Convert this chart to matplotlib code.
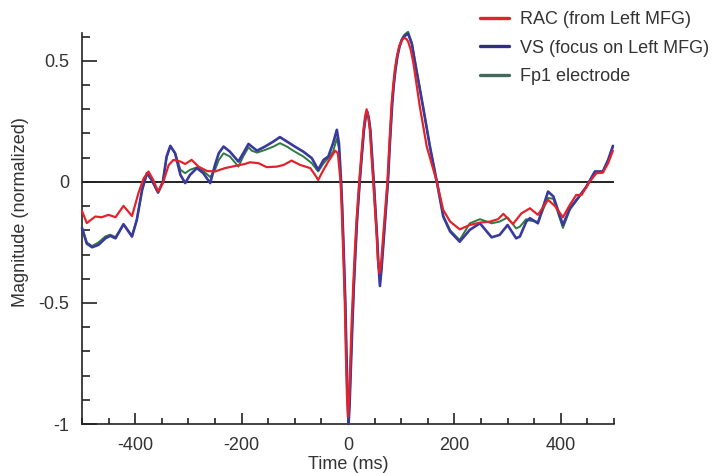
import matplotlib
matplotlib.use("Agg")
import matplotlib.pyplot as plt
from matplotlib.ticker import MultipleLocator, FuncFormatter

plt.rcParams['font.family'] = ['Liberation Sans', 'DejaVu Sans']

# ---- data ----
rac_t = [-500, -491, -475, -463, -450, -437, -422, -406, -394, -384, -375, -366, -357, -348,
         -337, -328, -315, -306, -294, -281, -265, -250, -231, -212, -194, -184, -168, -153,
         -134, -121, -106, -90, -71, -62, -56, -46, -37, -24, -19, -14, -12, -9, -6, -4, -2,
         0, 2, 7, 10, 13, 16, 21, 25, 29, 32, 35, 38, 41, 48, 54, 56, 59, 62, 66, 74, 78, 82,
         85, 88, 92, 96, 100, 104, 107, 110, 113, 118, 123, 135, 148, 167, 179, 192, 210, 229,
         248, 267, 282, 292, 310, 326, 342, 357, 376, 389, 404, 417, 429, 439, 454, 467, 479,
         489, 498]
rac_v = [-0.12, -0.17, -0.143, -0.146, -0.136, -0.146, -0.099, -0.141, -0.047, 0.015, 0.043,
         0.008, -0.04, -0.005, 0.07, 0.091, 0.084, 0.074, 0.091, 0.063, 0.045, 0.043, 0.057,
         0.066, 0.074, 0.081, 0.077, 0.061, 0.063, 0.07, 0.088, 0.07, 0.057, 0.029, 0.008,
         0.05, 0.084, 0.129, 0.118, 0.0, -0.1, -0.29, -0.5, -0.71, -0.88, -0.97, -0.9, -0.57,
         -0.42, -0.28, -0.157, 0.0, 0.11, 0.215, 0.27, 0.30, 0.27, 0.215, -0.02, -0.226, -0.32,
         -0.377, -0.34, -0.226, 0.0, 0.17, 0.325, 0.40, 0.463, 0.52, 0.559, 0.58, 0.593, 0.594,
         0.59, 0.58, 0.545, 0.49, 0.311, 0.146, 0.0, -0.116, -0.164, -0.196, -0.178, -0.168,
         -0.164, -0.154, -0.132, -0.174, -0.13, -0.109, -0.136, -0.074, -0.10, -0.146, -0.095,
         -0.054, -0.054, 0.0, 0.036, 0.038, 0.077, 0.129]

vs_t = [-500, -491, -481, -469, -456, -447, -437, -422, -406, -397, -387, -378, -369, -357,
        -348, -341, -334, -325, -315, -306, -297, -284, -272, -259, -250, -243, -234, -222,
        -206, -197, -187, -181, -171, -156, -140, -128, -115, -100, -84, -68, -56, -46, -37,
        -28, -21, -17, -13, -11, -8, -5, -3, -1, 1, 3, 8, 11, 14, 17, 22, 26, 30, 33, 36, 39,
        42, 49, 55, 57, 60, 63, 67, 75, 79, 83, 86, 89, 93, 97, 101, 105, 108, 113, 120, 128,
        141, 154, 167, 179, 192, 210, 229, 248, 270, 285, 300, 316, 323, 335, 342, 357, 376,
        386, 404, 417, 432, 448, 464, 479, 489, 498]
vs_v = [-0.19, -0.255, -0.27, -0.26, -0.233, -0.223, -0.233, -0.175, -0.226, -0.157, -0.033,
        0.036, 0.008, -0.044, 0.0, 0.105, 0.149, 0.118, 0.029, -0.005, 0.029, 0.057, 0.036,
        -0.005, 0.07, 0.118, 0.146, 0.125, 0.084, 0.118, 0.157, 0.146, 0.129, 0.146, 0.167,
        0.185, 0.167, 0.146, 0.125, 0.098, 0.05, 0.091, 0.105, 0.16, 0.215, 0.16, 0.0, -0.1,
        -0.29, -0.5, -0.70, -0.88, -1.0, -0.92, -0.6, -0.43, -0.29, -0.16, 0.0, 0.11, 0.215,
        0.265, 0.29, 0.265, 0.215, -0.02, -0.24, -0.33, -0.43, -0.36, -0.24, 0.0, 0.17, 0.32,
        0.40, 0.46, 0.52, 0.56, 0.585, 0.60, 0.605, 0.612, 0.57, 0.47, 0.311, 0.146, 0.0,
        -0.143, -0.205, -0.247, -0.198, -0.171, -0.229, -0.219, -0.178, -0.233, -0.226, -0.164,
        -0.15, -0.171, -0.04, -0.06, -0.178, -0.109, -0.067, -0.02, 0.043, 0.043, 0.091, 0.149]

fp1_t = vs_t
fp1_v = [-0.19, -0.25, -0.265, -0.25, -0.225, -0.218, -0.228, -0.175, -0.222, -0.157, -0.033,
         0.036, 0.008, -0.044, 0.0, 0.10, 0.145, 0.12, 0.05, 0.036, 0.05, 0.06, 0.045, 0.02,
         0.05, 0.09, 0.118, 0.105, 0.063, 0.105, 0.143, 0.129, 0.121, 0.132, 0.146, 0.16,
         0.146, 0.125, 0.105, 0.077, 0.043, 0.077, 0.098, 0.125, 0.18, 0.14, 0.0, -0.1,
         -0.29, -0.5, -0.70, -0.88, -0.99, -0.91, -0.6, -0.43, -0.29, -0.16, 0.0, 0.11, 0.215,
         0.265, 0.29, 0.265, 0.215, -0.02, -0.24, -0.33, -0.42, -0.35, -0.24, 0.0, 0.17, 0.32,
         0.40, 0.46, 0.52, 0.56, 0.59, 0.605, 0.612, 0.62, 0.575, 0.47, 0.311, 0.146, 0.0,
         -0.14, -0.2, -0.24, -0.171, -0.154, -0.171, -0.164, -0.147, -0.192, -0.185, -0.154,
         -0.16, -0.165, -0.066, -0.07, -0.19, -0.115, -0.07, -0.02, 0.04, 0.043, 0.09, 0.145]

series_labels = ['RAC (from Left MFG)', 'VS (focus on Left MFG)', 'Fp1 electrode']
x_major = [-400, -200, 0, 200, 400]
y_major = [-1, -0.5, 0, 0.5]

# ---- figure ----
fig = plt.figure(figsize=(7.13, 4.73), dpi=100)
ax = fig.add_axes([82/713, 1-424/473, 532/713, 391/473])

red = '#e3232c'
blue = '#3a3a9c'
green = '#2e7a40'

ax.axhline(0, color='#222222', lw=1.4, zorder=1)
kw = dict(clip_on=False, solid_joinstyle='round', solid_capstyle='round')
l_vs, = ax.plot(vs_t, vs_v, color=blue, lw=1.9, zorder=3, **kw)
l_fp, = ax.plot(fp1_t, fp1_v, color=green, lw=1.4, zorder=2, **kw)
l_rac, = ax.plot(rac_t, rac_v, color=red, lw=1.6, zorder=4, **kw)

ax.set_xlim(-500, 500)
ax.set_ylim(-1, 0.615)

for s in ['top', 'right']:
    ax.spines[s].set_visible(False)
for s in ['left', 'bottom']:
    ax.spines[s].set_linewidth(1.2)
    ax.spines[s].set_color('#222222')

ax.set_xticks(x_major)
ax.set_yticks(y_major)
ax.xaxis.set_minor_locator(MultipleLocator(50))
ax.yaxis.set_minor_locator(MultipleLocator(0.1))
fmt = FuncFormatter(lambda v, p: ('%g' % v).replace('\u2212', '-'))
ax.xaxis.set_major_formatter(fmt)
ax.yaxis.set_major_formatter(fmt)

ax.tick_params(axis='both', which='both', direction='in', colors='#222222',
               labelcolor='#333333', labelsize=13, width=1.2)
ax.tick_params(axis='x', which='major', length=8, pad=9)
ax.tick_params(axis='x', which='minor', length=4.5)
ax.tick_params(axis='y', which='major', length=11, pad=9)
ax.tick_params(axis='y', which='minor', length=6)

ax.set_xlabel('Time (ms)', fontsize=13, color='#333333')
ax.set_ylabel('Magnitude (normalized)', fontsize=13, color='#333333')
ax.xaxis.set_label_coords(0.5, -0.082)
ax.yaxis.set_label_coords(-0.10, 0.542)

leg = fig.legend([l_rac, l_vs, l_fp], series_labels, loc='upper left',
                 bbox_to_anchor=(480/713, 1-11/473), frameon=False, fontsize=13,
                 handlelength=1.6, handletextpad=0.6, labelspacing=0.64, borderpad=0,
                 borderaxespad=0)
for t in leg.get_texts():
    t.set_color('#333333')
for h in leg.legend_handles:
    h.set_linewidth(2.4)
leg.legend_handles[1].set_color('#2e2e84')
leg.legend_handles[2].set_color('#426a5c')

fig.savefig('out.png', dpi=100)
